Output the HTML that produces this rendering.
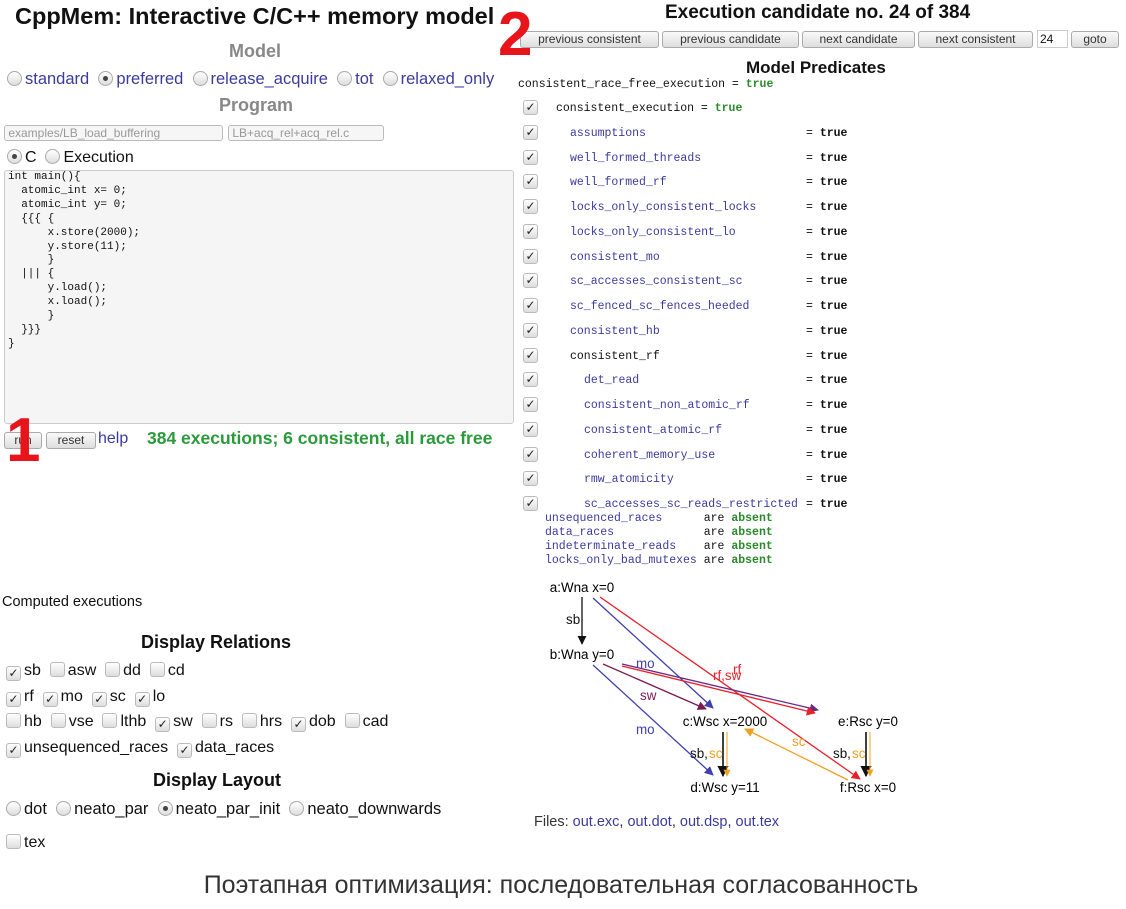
<!DOCTYPE html>
<html><head><meta charset="utf-8">
<style>
body{margin:0;width:1126px;height:909px;background:#fff;position:relative;overflow:hidden;font-family:"Liberation Sans",sans-serif;color:#111}
.a{position:absolute;white-space:pre}
.mono{font-family:"Liberation Mono",monospace}
.rad{display:inline-block;width:13px;height:13px;border-radius:50%;border:1px solid #aaa;background:linear-gradient(#fff,#ddd);vertical-align:-2px;margin-right:3px;position:relative}
.rad.on::after{content:"";position:absolute;left:4px;top:4px;width:5px;height:5px;border-radius:50%;background:#444}
.cb{display:inline-block;width:13px;height:13px;border-radius:3px;border:1px solid #bbb;background:linear-gradient(#fff,#ddd);vertical-align:-2px;margin-right:3px;position:relative;font-size:12px;line-height:12px;text-align:center;color:#222}
.cb.abs{position:absolute}
.blue{color:#3b3b9e}
.btn{position:absolute;height:15px;border:1px solid #aaa;border-radius:3px;background:linear-gradient(#fafafa,#ddd);font-size:12px;line-height:15px;text-align:center;color:#333}
.h{position:absolute;font-weight:bold;text-align:center}
.opt{position:absolute;font-size:16px}
</style></head><body>
<div class="a h" style="left:15px;top:3px;font-size:23.5px">CppMem: Interactive C/C++ memory model</div>
<div class="a h" style="left:229px;top:41px;font-size:18px;color:#888">Model</div>
<div class="a opt" style="left:7px;top:70px;font-size:16.5px"><span class="rad"></span><span class="blue">standard</span>  <span class="rad on"></span><span class="blue">preferred</span>  <span class="rad"></span><span class="blue">release_acquire</span>  <span class="rad"></span><span class="blue">tot</span>  <span class="rad"></span><span class="blue">relaxed_only</span></div>
<div class="a h" style="left:219px;top:95px;font-size:18px;color:#888">Program</div>
<div class="a" style="left:4px;top:125px;width:217px;height:14px;border:1px solid #bbb;border-radius:3px;font-size:12px;line-height:14px;color:#999;background:#f6f6f6"> examples/LB_load_buffering</div>
<div class="a" style="left:228px;top:125px;width:154px;height:14px;border:1px solid #bbb;border-radius:3px;font-size:12px;line-height:14px;color:#999;background:#f6f6f6"> LB+acq_rel+acq_rel.c</div>
<div class="a opt" style="left:7px;top:149px"><span class="rad on"></span>C  <span class="rad"></span>Execution</div>
<div class="a mono" style="left:4px;top:170px;width:505px;height:252px;border:1px solid #ccc;border-radius:3px;background:#f4f5f4;font-size:11px;line-height:13.9px;padding:0 0 0 3px">int main(){
  atomic_int x= 0;
  atomic_int y= 0;
  {{{ {
      x.store(2000);
      y.store(11);
      }
  ||| {
      y.load();
      x.load();
      }
  }}}
}</div>
<div class="btn" style="left:4px;top:432px;width:36px">run</div>
<div class="btn" style="left:46px;top:432px;width:48px">reset</div>
<div class="a blue" style="left:98px;top:430px;font-size:16px">help</div>
<div class="a" style="left:147px;top:428px;font-size:17.5px;font-weight:bold;color:#2a9a3a">384 executions; 6 consistent, all race free</div>
<div class="a" style="left:6px;top:410px;font-size:62px;font-weight:bold;color:#e8141c;line-height:62px">1</div>
<div class="a" style="left:2px;top:594px;font-size:14.5px">Computed executions</div>
<div class="a h" style="left:141px;top:632px;font-size:18px">Display Relations</div>
<div class="a opt" style="left:6px;top:662px"><span class="cb">✓</span>sb  <span class="cb"></span>asw  <span class="cb"></span>dd  <span class="cb"></span>cd</div>
<div class="a opt" style="left:6px;top:688px"><span class="cb">✓</span>rf  <span class="cb">✓</span>mo  <span class="cb">✓</span>sc  <span class="cb">✓</span>lo</div>
<div class="a opt" style="left:6px;top:713px"><span class="cb"></span>hb  <span class="cb"></span>vse  <span class="cb"></span>lthb  <span class="cb">✓</span>sw  <span class="cb"></span>rs  <span class="cb"></span>hrs  <span class="cb">✓</span>dob  <span class="cb"></span>cad</div>
<div class="a opt" style="left:6px;top:739px"><span class="cb">✓</span>unsequenced_races  <span class="cb">✓</span>data_races</div>
<div class="a h" style="left:153px;top:770px;font-size:18px">Display Layout</div>
<div class="a opt" style="left:6px;top:800px;font-size:16.5px"><span class="rad"></span>dot  <span class="rad"></span>neato_par  <span class="rad on"></span>neato_par_init  <span class="rad"></span>neato_downwards</div>
<div class="a opt" style="left:6px;top:834px"><span class="cb"></span>tex</div>

<div class="a h" style="left:665px;top:2px;font-size:19px">Execution candidate no. 24 of 384</div>
<div class="btn" style="left:520px;top:31px;width:137px">previous consistent</div>
<div class="btn" style="left:662px;top:31px;width:135px">previous candidate</div>
<div class="btn" style="left:802px;top:31px;width:111px">next candidate</div>
<div class="btn" style="left:918px;top:31px;width:113px">next consistent</div>
<div class="a" style="left:1037px;top:30px;width:27px;height:16px;border:1px solid #ccc;font-size:12px;line-height:16px;padding-left:2px">24</div>
<div class="btn" style="left:1071px;top:31px;width:46px">goto</div>
<div class="a" style="left:498px;top:4px;font-size:62px;font-weight:bold;color:#e8141c;line-height:62px">2</div>
<div class="a h" style="left:746px;top:58px;font-size:17px">Model Predicates</div>
<div class="a mono" style="left:518px;top:78px;font-size:11.5px">consistent_race_free_execution = <b style="color:#2a8a2a">true</b></div>
<div id="preds"></div>
<div class="a mono" style="left:545px;top:512px;font-size:11.5px;line-height:14px"><span class="blue">unsequenced_races</span>      are <b style="color:#2a8a2a">absent</b>
<span class="blue">data_races</span>             are <b style="color:#2a8a2a">absent</b>
<span class="blue">indeterminate_reads</span>    are <b style="color:#2a8a2a">absent</b>
<span class="blue">locks_only_bad_mutexes</span> are <b style="color:#2a8a2a">absent</b></div>

<svg class="a" style="left:0;top:0" width="1126" height="909" font-family="Liberation Sans, sans-serif" font-size="13.4">
<defs>
<marker id="mk" viewBox="0 0 10 10" refX="9" refY="5" markerWidth="7" markerHeight="7" orient="auto-start-reverse"><path d="M0,0L10,5L0,10z" fill="context-stroke"/></marker>
</defs>
<g id="edges"></g><g id="nodes"></g>
</svg>
<div class="a" style="left:534px;top:814px;font-size:14.5px;color:#333">Files: <span class="blue">out.exc</span>, <span class="blue">out.dot</span>, <span class="blue">out.dsp</span>, <span class="blue">out.tex</span></div>
<div class="a" style="left:0;width:1122px;text-align:center;top:871px;font-size:25px;color:#333">Поэтапная оптимизация: последовательная согласованность</div>

<script>
const predNames=["consistent_execution","assumptions","well_formed_threads","well_formed_rf","locks_only_consistent_locks","locks_only_consistent_lo","consistent_mo","sc_accesses_consistent_sc","sc_fenced_sc_fences_heeded","consistent_hb","consistent_rf","det_read","consistent_non_atomic_rf","consistent_atomic_rf","coherent_memory_use","rmw_atomicity","sc_accesses_sc_reads_restricted"];
const predLevels=[0,1,1,1,1,1,1,1,1,1,1,2,2,2,2,2,2];
const predBlue=[0,1,1,1,1,1,1,1,1,1,0,1,1,1,1,1,1];
const pc=document.getElementById('preds');
predNames.forEach((n,i)=>{
  const y=102+i*24.75;
  const c=document.createElement('span');c.className='cb abs';c.textContent='✓';
  c.style.left='523px';c.style.top=(y-2)+'px';
  
  
  pc.appendChild(c);
  const t=document.createElement('div');t.className='a mono';
  t.style.left=(556+predLevels[i]*14)+'px';t.style.top=y+'px';t.style.fontSize='11.5px';
  t.style.color=predBlue[i]?'#3b3b9e':'#111';
  t.textContent=n+(i===0?' = ':'');
  if(i===0){const b=document.createElement('b');b.style.color='#2a8a2a';b.textContent='true';t.appendChild(b);}
  
  
  pc.appendChild(t);
  if(i>0){const v=document.createElement('div');v.className='a mono';v.style.left='806px';v.style.top=y+'px';v.style.fontSize='11.5px';
    v.innerHTML='= <b>true</b>';
    
    
    pc.appendChild(v);}
});
const nodeLabels=["a:Wna x=0","b:Wna y=0","c:Wsc x=2000","d:Wsc y=11","e:Rsc y=0","f:Rsc x=0"];
const nodeX=[582,582,725,725,868,868];
const nodeY=[587,654,721,787,721,787];
const NS='http://www.w3.org/2000/svg';
const ng=document.getElementById('nodes'),eg=document.getElementById('edges');
nodeLabels.forEach((l,i)=>{const t=document.createElementNS(NS,'text');t.setAttribute('x',nodeX[i]);t.setAttribute('y',nodeY[i]+5);t.setAttribute('text-anchor','middle');t.textContent=l;


ng.appendChild(t);});
function line(x1,y1,x2,y2,col,w,name){const p=document.createElementNS(NS,'line');p.setAttribute('x1',x1);p.setAttribute('y1',y1);p.setAttribute('x2',x2);p.setAttribute('y2',y2);p.setAttribute('stroke',col);p.setAttribute('stroke-width',w||1.3);p.setAttribute('marker-end','url(#mk)');


eg.appendChild(p);}
function lab(x,y,s,col,name){const t=document.createElementNS(NS,'text');t.setAttribute('x',x);t.setAttribute('y',y);t.setAttribute('fill',col);t.textContent=s;


eg.appendChild(t);}
line(582,597,582,644,'#111',1.3,'edge-sb-ab');lab(566,624,'sb','#111','label-sb');
line(593,598,713,708,'#4040b0',1.3,'edge-mo-ac');
line(600,597,860,779,'#e8202a',1.3,'edge-rf-af');
line(593,665,713,775,'#4040b0',1.3,'edge-mo-bd');lab(636,734,'mo','#4040b0','label-mo-bd');
line(603,664,706,709,'#7a1a55',1.3,'edge-sw-bc');lab(640,700,'sw','#7a1a55','label-sw');
line(622,664,818,710,'#6a2a80',1.3,'edge-mo-be');
line(622,666,815,713,'#e8202a',1.3,'edge-rf-be');
lab(636,668,'mo','#4040b0','label-mo-be');
lab(713,680,'rf,sw','#e8202a','label-rf-sw');lab(733,674,'rf','#e8202a','label-rf');
line(723,732,723,776,'#111',1.6,'edge-sb-cd');line(727,732,727,776,'#f0a020',1,'edge-sc-cd');
lab(690,758,'sb,','#111','label-sb-cd');lab(709,758,'sc','#f0a020','label-sc-cd');
line(866,732,866,776,'#111',1.6,'edge-sb-ef');line(870,732,870,776,'#f0a020',1,'edge-sc-ef');
lab(833,758,'sb,','#111','label-sb-ef');lab(852,758,'sc','#f0a020','label-sc-ef');
line(848,780,745,729,'#f0a020',1.3,'edge-sc-fc');lab(792,746,'sc','#f0a020','label-sc-fc');
</script>
</body></html>
